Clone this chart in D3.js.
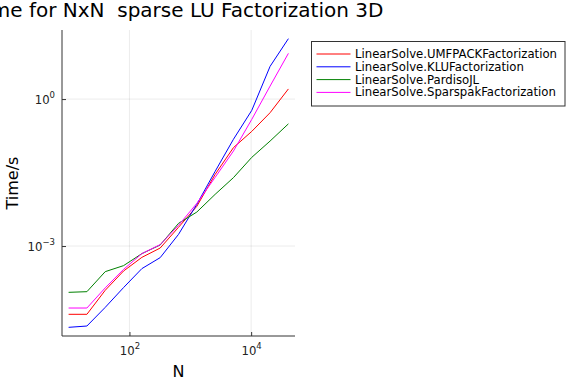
<!DOCTYPE html>
<html>
<head>
<meta charset="utf-8">
<script src="https://cdn.jsdelivr.net/npm/d3@7"></script>
<style>
  html, body { margin: 0; padding: 0; background: #fff; }
  svg { display: block; font-family: "DejaVu Sans", sans-serif; }
  text { white-space: pre; }
</style>
</head>
<body>
<svg id="chart" width="576" height="384"></svg>
<script>
// ---- data ----
const sizes = [10, 20, 40, 80, 160, 320, 640, 1280, 2560, 5120, 10240, 20480, 40960];
const seriesNames = [
  "LinearSolve.UMFPACKFactorization",
  "LinearSolve.KLUFactorization",
  "LinearSolve.PardisoJL",
  "LinearSolve.SparspakFactorization"
];
const seriesColors = ["#ff0000", "#0000ff", "#008000", "#ff00ff"];
const umfpack  = [4.04e-5, 4.04e-5, 1.25e-4, 3.09e-4, 5.87e-4, 9.1e-4, 2.41e-3, 6.46e-3, 2.9e-2, 0.102, 0.219, 0.527, 1.61];
const klu      = [2.19e-5, 2.33e-5, 5.6e-5, 1.42e-4, 3.46e-4, 5.8e-4, 1.73e-3, 7.1e-3, 3.34e-2, 0.151, 0.588, 4.65, 17.1];
const pardiso  = [1.135e-4, 1.17e-4, 3.0e-4, 3.98e-4, 7.0e-4, 1.05e-3, 2.9e-3, 4.94e-3, 1.135e-2, 2.49e-2, 6.46e-2, 0.139, 0.312];
const sparspak = [5.43e-5, 5.43e-5, 1.40e-4, 3.34e-4, 7.0e-4, 1.07e-3, 2.64e-3, 7.43e-3, 2.52e-2, 8.69e-2, 0.385, 1.84, 8.57];
const seriesValues = [umfpack, klu, pardiso, sparspak];
const xTickValues = [1e2, 1e4];
const xTickExps = ["2", "4"];
const yTickValues = [1e0, 1e-3];
const yTickExps = ["0", "\u22123"];
const titleText = "Time for NxN  sparse LU Factorization 3D";
const xLabel = "N";
const yLabel = "Time/s";

// ---- layout ----
const svg = d3.select("#chart");
const plot = { left: 62, top: 30, right: 295, bottom: 336 };

function widenLog(ext) {
  const a = Math.log10(ext[0]), b = Math.log10(ext[1]);
  const m = (b - a) * 0.03;
  return [Math.pow(10, a - m), Math.pow(10, b + m)];
}
const allY = seriesValues.flat();
const x = d3.scaleLog().domain(widenLog(d3.extent(sizes))).range([plot.left, plot.right]);
const y = d3.scaleLog().domain(widenLog(d3.extent(allY))).range([plot.bottom, plot.top]);

// grid
const grid = svg.append("g").attr("stroke", "#000").attr("stroke-opacity", 0.1).attr("stroke-width", 0.8);
xTickValues.forEach(v => grid.append("line")
  .attr("x1", x(v)).attr("x2", x(v)).attr("y1", plot.top).attr("y2", plot.bottom));
yTickValues.forEach(v => grid.append("line")
  .attr("x1", plot.left).attr("x2", plot.right).attr("y1", y(v)).attr("y2", y(v)));

// axes
const xAxis = svg.append("g").attr("transform", `translate(0,${plot.bottom})`)
  .call(d3.axisBottom(x).tickValues(xTickValues).tickSize(-4).tickSizeOuter(0).tickPadding(6).tickFormat(() => ""));
const yAxis = svg.append("g").attr("transform", `translate(${plot.left},0)`)
  .call(d3.axisLeft(y).tickValues(yTickValues).tickSize(-4).tickSizeOuter(0).tickPadding(6).tickFormat(() => ""));
[xAxis, yAxis].forEach(a => {
  a.select(".domain").attr("stroke", "#333").attr("stroke-width", 1);
  a.selectAll(".tick line").attr("stroke", "#333");
});
// trim domain to plot extents exactly
xAxis.select(".domain").attr("d", `M${plot.left},0H${plot.right}`);
yAxis.select(".domain").attr("d", `M0,${plot.bottom}V${plot.top}`);

// x tick labels with superscripts
xAxis.selectAll(".tick").each(function(d, i) {
  const t = d3.select(this).select("text").attr("y", 19).attr("dy", null)
    .attr("fill", "#222").attr("font-size", 11.7).attr("text-anchor", "middle")
    .attr("font-family", "DejaVu Sans, sans-serif");
  t.text(null);
  t.append("tspan").text("10");
  t.append("tspan").attr("dy", -6).attr("font-size", 8.5).text(xTickExps[i]);
});
yAxis.selectAll(".tick").each(function(d, i) {
  const t = d3.select(this).select("text").attr("x", -7).attr("dy", "0.35em")
    .attr("fill", "#222").attr("font-size", 11.7).attr("text-anchor", "end")
    .attr("font-family", "DejaVu Sans, sans-serif");
  t.text(null);
  t.append("tspan").text("10");
  t.append("tspan").attr("dy", -6).attr("font-size", 8.5).text(yTickExps[i]);
});

// series lines
const line = d3.line().x((d, i) => x(sizes[i])).y(d => y(d));
seriesValues.forEach((vals, k) => {
  svg.append("path").datum(vals)
    .attr("fill", "none").attr("stroke", seriesColors[k]).attr("stroke-width", 1)
    .attr("d", line);
});

// title
svg.append("text").attr("x", (plot.left + plot.right) / 2).attr("y", 17)
  .attr("text-anchor", "middle").attr("font-size", 20).attr("fill", "#000")
  .text(titleText);

// axis labels
svg.append("text").attr("x", (plot.left + plot.right) / 2).attr("y", 377)
  .attr("text-anchor", "middle").attr("font-size", 16).attr("fill", "#000").text(xLabel);
svg.append("text").attr("transform", `translate(18,${(plot.top + plot.bottom) / 2}) rotate(-90)`)
  .attr("text-anchor", "middle").attr("font-size", 16).attr("fill", "#000").text(yLabel);

// legend
const lg = svg.append("g");
lg.append("rect").attr("x", 311.5).attr("y", 41.5).attr("width", 253.5).attr("height", 64.5)
  .attr("fill", "#fff").attr("stroke", "#333").attr("stroke-width", 1);
seriesNames.forEach((name, k) => {
  const yy = 54 + k * 12.8;
  lg.append("line").attr("x1", 316.5).attr("x2", 350.5).attr("y1", yy).attr("y2", yy)
    .attr("stroke", seriesColors[k]).attr("stroke-width", 1);
  lg.append("text").attr("x", 355).attr("y", yy).attr("dy", "0.35em")
    .attr("font-size", 11.7).attr("fill", "#000").text(name);
});
</script>
</body>
</html>
